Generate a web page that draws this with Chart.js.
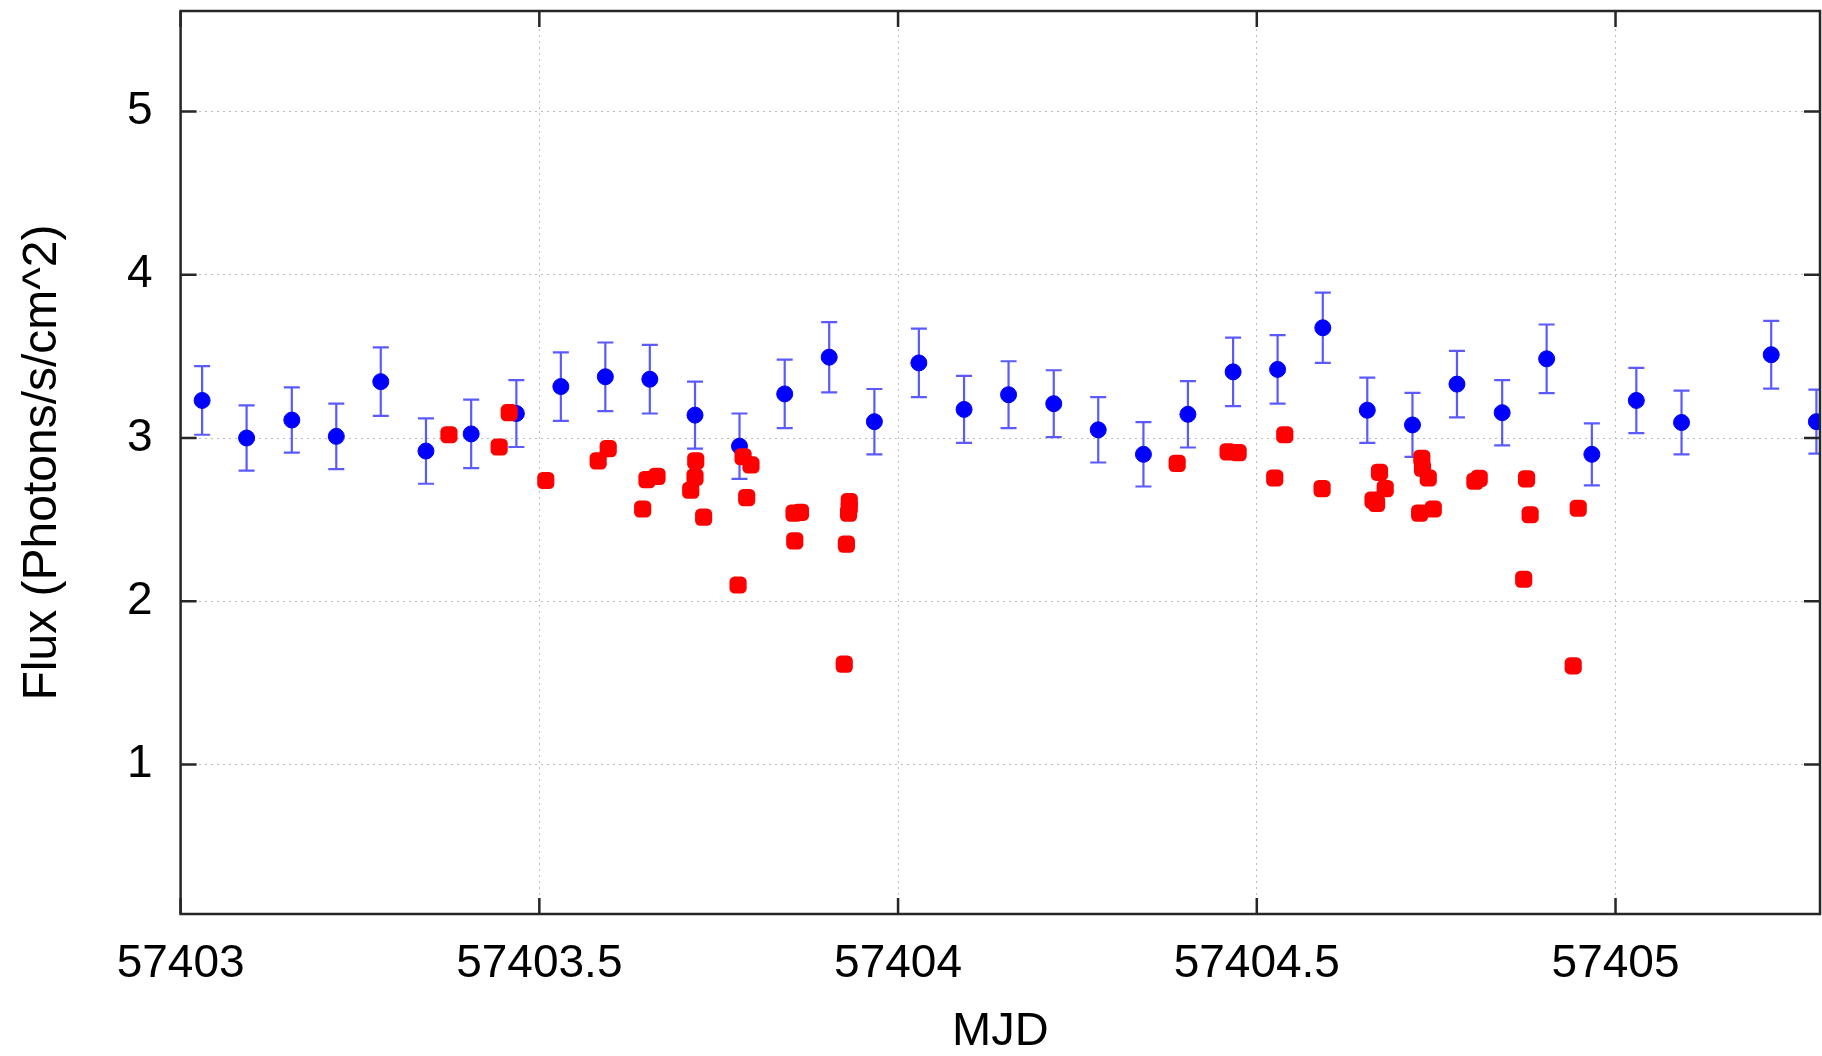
<!DOCTYPE html>
<html>
<head>
<meta charset="utf-8">
<title>Flux light curve</title>
<script src="https://cdn.jsdelivr.net/npm/chart.js@4.4.1/dist/chart.umd.min.js"></script>
<style>
  html, body { margin: 0; padding: 0; background: #fff; }
  canvas { display: block; }
</style>
</head>
<body>
<canvas id="lc" width="1822" height="1056"></canvas>
<script>
// binned flux with 1-sigma errors (blue)
const binMjd = [
  57403.030, 57403.092, 57403.155, 57403.217, 57403.279, 57403.342,
  57403.405, 57403.468, 57403.530, 57403.592, 57403.654, 57403.717,
  57403.779, 57403.842, 57403.904, 57403.967, 57404.029, 57404.092,
  57404.154, 57404.217, 57404.279, 57404.342, 57404.404, 57404.467,
  57404.529, 57404.592, 57404.654, 57404.717, 57404.779, 57404.842,
  57404.904, 57404.967, 57405.029, 57405.092, 57405.217, 57405.280
];
const binFlux = [
  3.23, 3.00, 3.11, 3.01, 3.345, 2.92,
  3.025, 3.15, 3.315, 3.375, 3.36, 3.14,
  2.95, 3.27, 3.495, 3.10, 3.46, 3.175,
  3.265, 3.21, 3.05, 2.90, 3.145, 3.405,
  3.42, 3.675, 3.17, 3.08, 3.33, 3.155,
  3.485, 2.90, 3.23, 3.095, 3.51, 3.10
];
const binErr = [
  0.21, 0.20, 0.20, 0.20, 0.21, 0.20,
  0.21, 0.205, 0.21, 0.21, 0.21, 0.205,
  0.20, 0.21, 0.215, 0.20, 0.21, 0.205,
  0.205, 0.205, 0.20, 0.197, 0.203, 0.21,
  0.21, 0.215, 0.20, 0.196, 0.204, 0.20,
  0.21, 0.19, 0.20, 0.195, 0.207, 0.196
];

// single observations (red)
const obsMjd = [
  57403.374, 57403.444, 57403.458, 57403.509, 57403.582, 57403.596,
  57403.644, 57403.650, 57403.664, 57403.718, 57403.717, 57403.711,
  57403.729, 57403.777, 57403.784, 57403.795, 57403.789, 57403.855,
  57403.864, 57403.856, 57403.932, 57403.932, 57403.931, 57403.928,
  57403.925, 57404.389, 57404.460, 57404.474, 57404.525, 57404.539,
  57404.591, 57404.662, 57404.667, 57404.671, 57404.679, 57404.730,
  57404.731, 57404.739, 57404.727, 57404.746, 57404.804, 57404.810,
  57404.876, 57404.881, 57404.872, 57404.948, 57404.941
];
const obsFlux = [
  3.02, 2.945, 3.155, 2.74, 2.86, 2.935,
  2.565, 2.745, 2.765, 2.86, 2.76, 2.68,
  2.515, 2.10, 2.885, 2.835, 2.635, 2.54,
  2.545, 2.37, 2.61, 2.575, 2.54, 2.35,
  1.615, 2.845, 2.915, 2.91, 2.755, 3.02,
  2.69, 2.62, 2.60, 2.79, 2.69, 2.875,
  2.815, 2.755, 2.54, 2.565, 2.735, 2.753,
  2.75, 2.53, 2.135, 2.57, 1.605
];

const xRange = [57403, 57405.285];
const yRange = [0.085, 5.615];
const xTickValues = [57403, 57403.5, 57404, 57404.5, 57405];
const yTickValues = [1, 2, 3, 4, 5];

const FONT = "'Liberation Sans', Arial, Helvetica, sans-serif";

// vertical error bars with caps, under the points
const errorBars = {
  id: 'errorBars',
  beforeDatasetsDraw(chart) {
    const { ctx, chartArea: a, scales: { x, y } } = chart;
    const cap = 8;
    ctx.save();
    ctx.beginPath();
    ctx.rect(a.left, a.top, a.right - a.left, a.bottom - a.top);
    ctx.clip();
    ctx.strokeStyle = 'rgba(20,20,255,0.7)';
    ctx.lineWidth = 2.2;
    binMjd.forEach((t, i) => {
      const px = x.getPixelForValue(t);
      const hi = y.getPixelForValue(binFlux[i] + binErr[i]);
      const lo = y.getPixelForValue(binFlux[i] - binErr[i]);
      ctx.beginPath();
      ctx.moveTo(px, hi); ctx.lineTo(px, lo);
      ctx.moveTo(px - cap, hi); ctx.lineTo(px + cap, hi);
      ctx.moveTo(px - cap, lo); ctx.lineTo(px + cap, lo);
      ctx.stroke();
    });
    ctx.restore();
  }
};

// closed frame with inward tick marks on all four sides
const frame = {
  id: 'frame',
  afterDraw(chart) {
    const { ctx, chartArea: a, scales: { x, y } } = chart;
    const len = 16;
    ctx.save();
    ctx.strokeStyle = '#262626';
    ctx.lineWidth = 2.5;
    ctx.beginPath();
    x.ticks.forEach(t => {
      const px = x.getPixelForValue(t.value);
      ctx.moveTo(px, a.bottom); ctx.lineTo(px, a.bottom - len);
      ctx.moveTo(px, a.top); ctx.lineTo(px, a.top + len);
    });
    y.ticks.forEach(t => {
      const py = y.getPixelForValue(t.value);
      ctx.moveTo(a.left, py); ctx.lineTo(a.left + len, py);
      ctx.moveTo(a.right, py); ctx.lineTo(a.right - len, py);
    });
    ctx.stroke();
    ctx.strokeRect(a.left, a.top, a.right - a.left, a.bottom - a.top);
    ctx.restore();
  }
};

// fixed axis boxes, no extra room for overhanging labels
const fitX = s => {
  s.height = 142;
  s.paddingLeft = 0; s.paddingRight = 0;
};
const fitY = s => {
  s.width = 180.6;
  s.paddingTop = 0; s.paddingBottom = 0;
};

new Chart(document.getElementById('lc'), {
  type: 'scatter',
  data: {
    datasets: [
      {
        label: 'single',
        data: obsMjd.map((t, i) => ({ x: t, y: obsFlux[i] })),
        pointStyle: 'rectRounded',
        pointRadius: 10,
        backgroundColor: '#ff0000',
        borderColor: '#ff0000',
        borderWidth: 0,
        order: 0,
        clip: 0
      },
      {
        label: 'binned',
        data: binMjd.map((t, i) => ({ x: t, y: binFlux[i] })),
        pointStyle: 'circle',
        pointRadius: 8,
        backgroundColor: '#0000ff',
        borderColor: '#0000ff',
        borderWidth: 1,
        order: 1,
        clip: 0
      }
    ]
  },
  options: {
    responsive: false,
    animation: false,
    events: [],
    layout: {
      autoPadding: false,
      padding: { top: 11, right: 2, left: 0, bottom: 0 }
    },
    plugins: {
      legend: { display: false },
      tooltip: { enabled: false }
    },
    scales: {
      x: {
        type: 'linear',
        min: xRange[0],
        max: xRange[1],
        afterBuildTicks: s => { s.ticks = xTickValues.map(v => ({ value: v })); },
        afterFit: fitX,
        border: { display: false, dash: [2, 4] },
        grid: { color: '#bdbdbd', lineWidth: 1, drawTicks: false, tickLength: 0 },
        ticks: {
          padding: 23,
          color: '#000',
          font: { family: FONT, size: 46 },
          maxRotation: 0,
          autoSkip: false,
          callback: v => String(v)
        },
        title: {
          display: true,
          text: 'MJD',
          color: '#000',
          font: { family: FONT, size: 47, lineHeight: 1 },
          padding: { top: 0, bottom: 0 }
        }
      },
      y: {
        type: 'linear',
        min: yRange[0],
        max: yRange[1],
        afterBuildTicks: s => { s.ticks = yTickValues.map(v => ({ value: v })); },
        afterFit: fitY,
        border: { display: false, dash: [2, 4] },
        grid: { color: '#bdbdbd', lineWidth: 1, drawTicks: false, tickLength: 0 },
        ticks: {
          padding: 28,
          color: '#000',
          font: { family: FONT, size: 46 },
          callback: v => String(v)
        },
        title: {
          display: true,
          text: 'Flux (Photons/s/cm^2)',
          color: '#000',
          font: { family: FONT, size: 48, lineHeight: 1 },
          padding: { top: 19, bottom: 0 }
        }
      }
    }
  },
  plugins: [errorBars, frame]
});
</script>
</body>
</html>
